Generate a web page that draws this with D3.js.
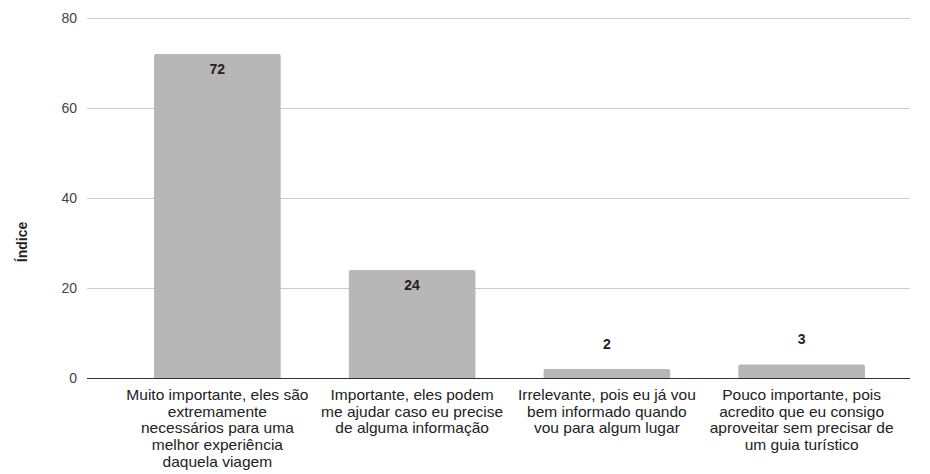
<!DOCTYPE html>
<html><head><meta charset="utf-8">
<script src="https://cdn.jsdelivr.net/npm/d3@7/dist/d3.min.js"></script>
<style>body{margin:0;background:#fff}svg{display:block;font-family:"Liberation Sans",Arial,sans-serif}</style>
</head><body><svg id="c" width="930" height="474"></svg>
<script>
const categories = [
  "Muito importante, eles são\nextremamente\nnecessários para uma\nmelhor experiência\ndaquela viagem",
  "Importante, eles podem\nme ajudar caso eu precise\nde alguma informação",
  "Irrelevante, pois eu já vou\nbem informado quando\nvou para algum lugar",
  "Pouco importante, pois\nacredito que eu consigo\naproveitar sem precisar de\num guia turístico"
];
const values = [72, 24, 2, 3];
const yTicks = [0, 20, 40, 60, 80];
const yTitle = "Índice";

const svg = d3.select("#c");
const x = d3.scaleBand().domain(categories).range([120, 899]).paddingInner(0.35).paddingOuter(0.175);
const y = d3.scaleLinear().domain([0, 80]).range([378, 18]);

svg.append("g").selectAll("line").data(yTicks.filter(d => d !== 0)).join("line")
  .attr("x1", 87).attr("x2", 910).attr("y1", d => y(d)).attr("y2", d => y(d))
  .attr("stroke", "#cccccc").attr("stroke-width", 1).attr("shape-rendering", "crispEdges");

svg.append("g").selectAll("text").data(yTicks).join("text")
  .attr("x", 77).attr("y", d => y(d)).attr("dy", "0.35em").attr("text-anchor", "end")
  .attr("font-size", 14).attr("fill", "#444").text(d => d);

svg.append("g").selectAll("path").data(values).join("path")
  .attr("fill", "#b7b7b7")
  .attr("d", (d, i) => {
    const x0 = x(categories[i]), w = x.bandwidth(), yt = y(d), yb = y(0), r = 2;
    return `M${x0},${yb}V${yt + r}Q${x0},${yt} ${x0 + r},${yt}H${x0 + w - r}Q${x0 + w},${yt} ${x0 + w},${yt + r}V${yb}Z`;
  });

svg.append("g").selectAll("text").data(values).join("text")
  .attr("x", (d, i) => x(categories[i]) + x.bandwidth() / 2)
  .attr("y", d => (y(0) - y(d) > 30) ? y(d) + 15 : y(d) - 25)
  .attr("dy", "0.35em").attr("text-anchor", "middle")
  .attr("font-size", 14).attr("font-weight", "bold").attr("fill", "#222").text(d => d);

svg.append("line").attr("x1", 87).attr("x2", 910).attr("y1", y(0)).attr("y2", y(0))
  .attr("stroke", "#333").attr("stroke-width", 1).attr("shape-rendering", "crispEdges");

const cat = svg.append("g").selectAll("text").data(categories).join("text")
  .attr("transform", d => `translate(${x(d) + x.bandwidth() / 2},395) scale(1.11,1)`)
  .attr("text-anchor", "middle")
  .attr("font-size", 14).attr("fill", "#222");
cat.each(function(d) {
  const t = d3.select(this);
  d.split("\n").forEach((line, k) => {
    t.append("tspan").attr("x", 0).attr("y", k * 16.75).attr("dy", "0.35em").text(line);
  });
});

svg.append("text").attr("transform", "translate(22,242) rotate(-90)")
  .attr("text-anchor", "middle").attr("dy", "0.35em")
  .attr("font-size", 14).attr("font-weight", "bold").attr("fill", "#222").text(yTitle);
</script></body></html>
